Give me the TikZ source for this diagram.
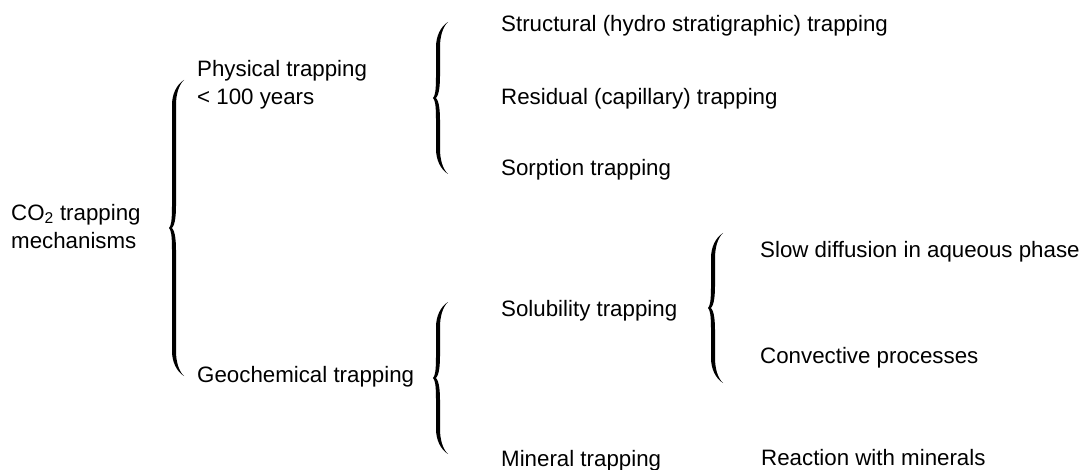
\documentclass[tikz,border=0pt]{standalone}
\usepackage{fontspec}
\setmainfont{Liberation Sans}
\tikzset{
  item/.style={anchor=base west, inner sep=0pt, align=left,
    font=\fontsize{22.3}{28}\selectfont},
  pics/curly/.style={code={
    \fill (15,-#1) .. controls (7,{-#1+5}) and (3,{-#1+15}) .. (3,{-#1+25})
      -- (3,-22) .. controls (3,-7) and (2,-2) .. (0,0)
      .. controls (2,2) and (3,7) .. (3,22)
      -- (3,{#1-25}) .. controls (3,{#1-15}) and (7,{#1-5}) .. (15,#1)
      .. controls (9.5,{#1-5}) and (7,{#1-15}) .. (7,{#1-25})
      -- (7,22) .. controls (7,8) and (5,2) .. (3,0)
      .. controls (5,-2) and (7,-8) .. (7,-22)
      -- (7,{-#1+25}) .. controls (7,{-#1+15}) and (9.5,{-#1+5}) .. (15,-#1) -- cycle;
  }}
}
\begin{document}
\begin{tikzpicture}[x=1pt, y=-1pt]
  \useasboundingbox (0,0) rectangle (1083,470);
  \node[item] (co2) at (11,248) {CO\textsubscript{2} trapping\\mechanisms};
  \node[item] (phys) at (197,105) {Physical trapping\\< 100 years};
  \node[item] (geo) at (197,382) {Geochemical trapping};
  \node[item] (struct) at (501,32) {Structural (hydro stratigraphic) trapping};
  \node[item] (resid) at (501,105) {Residual (capillary) trapping};
  \node[item] (sorp) at (501,176) {Sorption trapping};
  \node[item] (solub) at (501,316) {Solubility trapping};
  \node[item] (mineral) at (501,466) {Mineral trapping};
  \node[item] (slow) at (760,258) {Slow diffusion in aqueous phase};
  \node[item] (convect) at (760,363) {Convective processes};
  \node[item] (react) at (761,465) {Reaction with minerals};
  % braces
  \pic at (169,228) {curly=148};
  \pic at (433,98) {curly=76};
  \pic at (433,378) {curly=76};
  \pic at (708,308) {curly=75};
\end{tikzpicture}
\end{document}
